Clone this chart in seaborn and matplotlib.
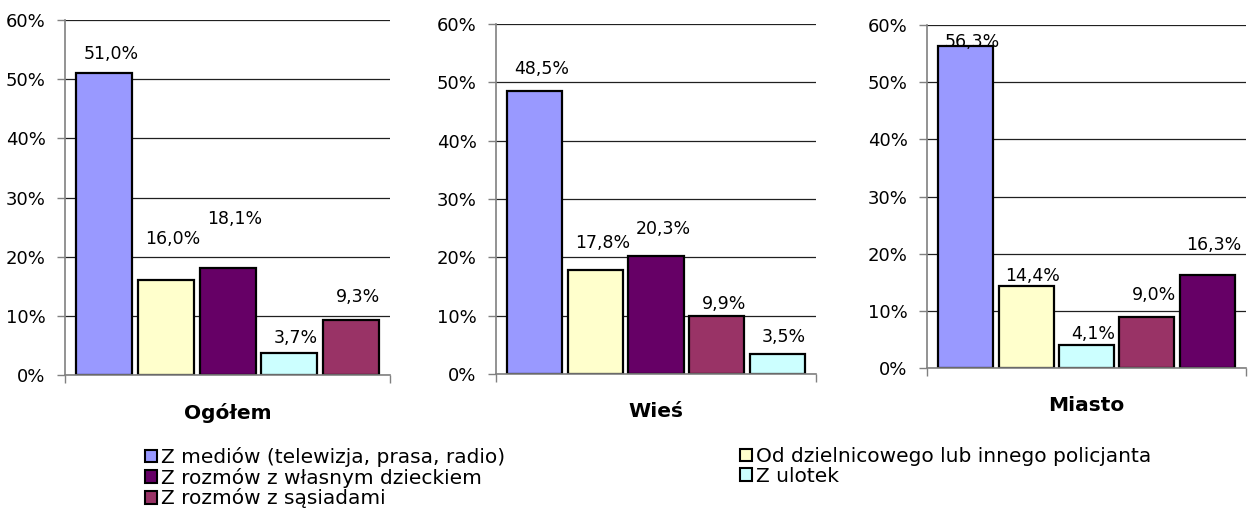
import numpy as np
import pandas as pd
import matplotlib
matplotlib.use("Agg")
import matplotlib.pyplot as plt
import matplotlib.patches as mpatches
import seaborn as sns

# data
sources = ["Z mediów (telewizja, prasa, radio)",
           "Od dzielnicowego lub innego policjanta",
           "Z rozmów z własnym dzieckiem",
           "Z ulotek",
           "Z rozmów z sąsiadami"]
colors = ["#9999FF", "#FFFFCC", "#660066", "#CCFFFF", "#993366"]

panels = ["Ogółem", "Wieś", "Miasto"]
order_ogolem = [0, 1, 2, 3, 4]
order_wies = [0, 1, 2, 4, 3]
order_miasto = [0, 1, 3, 4, 2]
values_ogolem = [51.0, 16.0, 18.1, 3.7, 9.3]
values_wies = [48.5, 17.8, 20.3, 9.9, 3.5]
values_miasto = [56.3, 14.4, 4.1, 9.0, 16.3]

# label nudges (pixels above bar top), Excel put them a bit unevenly
label_dy = [[19, 41, 49, 15, 23],
            [22, 27, 27, 12, 17],
            [4, 10, 11, 22, 30]]

sns.set_style("white")
plt.rcParams['font.family'] = ['DejaVu Sans']
plt.rcParams['text.color'] = 'black'
plt.rcParams['xtick.color'] = 'black'
plt.rcParams['ytick.color'] = 'black'
plt.rcParams['axes.labelcolor'] = 'black'

palette = dict(zip(sources, colors))
fig = plt.figure(figsize=(12.56, 5.18), dpi=100)

axes_pos = [[0.0518, 0.276, 0.2588, 0.685],
            [0.3949, 0.278, 0.2548, 0.676],
            [0.7380, 0.2896, 0.2540, 0.662]]
orders = [order_ogolem, order_wies, order_miasto]
vals = [values_ogolem, values_wies, values_miasto]

for i, name in enumerate(panels):
    ax = fig.add_axes(axes_pos[i])
    df = pd.DataFrame({"src": [sources[k] for k in orders[i]], "val": vals[i]})
    sns.barplot(data=df, x="src", y="val", hue="src", palette=palette,
                order=df["src"], width=0.91, edgecolor="black", linewidth=1.6,
                saturation=1, legend=False, ax=ax)
    ax.set_ylim(0, 60)
    ax.set_xlim(-0.64, 4.64)
    ax.set_yticks(np.arange(0, 61, 10))
    ax.set_yticklabels([f"{t}%" for t in range(0, 61, 10)], fontsize=13)
    ax.set_xticks([-0.64, 4.64])
    ax.set_xticklabels(["", ""])
    ax.tick_params(axis="both", direction="out", length=6, width=1, color="#808080", pad=8)
    ax.tick_params(axis="y", left=True)
    ax.tick_params(axis="x", bottom=True)
    ax.yaxis.grid(True, color="#202020", linewidth=0.9)
    ax.set_axisbelow(True)
    for s in ["top", "right"]:
        ax.spines[s].set_visible(False)
    for s in ["left", "bottom"]:
        ax.spines[s].set_color("#808080")
        ax.spines[s].set_linewidth(1.2)
    ax.set_xlabel(name, fontsize=14.5, fontweight="bold", labelpad=6)
    ax.set_ylabel("")
    for j, p in enumerate(ax.patches[:5]):
        h = p.get_height()
        ax.annotate(f"{h:.1f}%".replace(".", ","),
                    (p.get_x() + p.get_width() / 2, h),
                    xytext=(5, label_dy[i][j] * 0.72), textcoords="offset points",
                    ha="center", va="center", fontsize=12.5)

def handle(k):
    return mpatches.Patch(facecolor=colors[k], edgecolor="black", linewidth=1.5)

leg_kw = dict(frameon=False, fontsize=14.5, handlelength=0.6, handleheight=0.6,
              handletextpad=0.2, labelspacing=0.03, borderaxespad=0, borderpad=0)
left = [0, 2, 4]
right = [1, 3]
fig.legend([handle(k) for k in left], [sources[k] for k in left],
           loc="upper left", bbox_to_anchor=(145 / 1256, 1 - 447 / 518), **leg_kw)
fig.legend([handle(k) for k in right], [sources[k] for k in right],
           loc="upper left", bbox_to_anchor=(740 / 1256, 1 - 447 / 518), **leg_kw)

fig.savefig("out.png", dpi=100)
